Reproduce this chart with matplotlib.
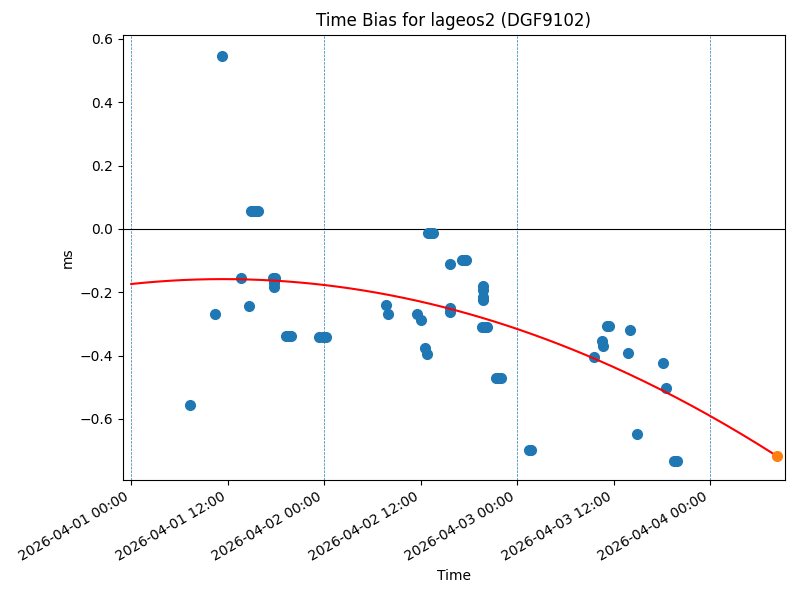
import numpy as np
import pandas as pd
import matplotlib
matplotlib.use("Agg")
import matplotlib.pyplot as plt
import matplotlib.dates as mdates

# observation times, hours after 2026-04-01 00:00
t0 = pd.Timestamp("2026-04-01 00:00")
hours = [7.3, 10.4, 11.3, 13.6, 14.7,
         14.9, 15.2, 15.5, 15.8,
         17.6, 17.9, 17.8, 17.7, 17.8,
         19.3, 19.6, 19.9,
         23.4, 23.8, 24.2,
         31.7, 32.0, 35.6, 36.1, 36.6, 36.8,
         36.9, 37.2, 37.5,
         39.6, 39.7, 39.7,
         41.2, 41.5, 41.7,
         43.7, 43.8, 43.7, 43.7,
         43.6, 44.0, 44.3,
         45.4, 45.7, 46.0,
         49.5, 49.7,
         57.6, 58.6, 58.7, 59.2, 59.4,
         61.8, 62.0, 62.9, 66.2, 66.5,
         67.5, 67.9]
bias = [-0.555, -0.270, 0.545, -0.155, -0.243,
        0.057, 0.057, 0.057, 0.057,
        -0.155, -0.155, -0.165, -0.172, -0.183,
        -0.337, -0.337, -0.337,
        -0.340, -0.340, -0.340,
        -0.240, -0.268, -0.268, -0.287, -0.376, -0.395,
        -0.013, -0.013, -0.013,
        -0.110, -0.250, -0.262,
        -0.098, -0.098, -0.098,
        -0.180, -0.193, -0.215, -0.224,
        -0.310, -0.310, -0.310,
        -0.470, -0.470, -0.470,
        -0.697, -0.697,
        -0.404, -0.354, -0.370, -0.306, -0.306,
        -0.392, -0.319, -0.647, -0.423, -0.502,
        -0.733, -0.733]

# quadratic fit coefficients (ms, per hour), highest order first
fit_coef = [-0.0001178, 0.002696, -0.174]
fit_end = 80.3  # hours, last point of the fit / prediction

times = [t0 + pd.Timedelta(hours=h) for h in hours]
fit_h = np.linspace(0, fit_end, 200)
fit_t = [t0 + pd.Timedelta(hours=h) for h in fit_h]
fit_v = np.polyval(fit_coef, fit_h)
pred_t = t0 + pd.Timedelta(hours=fit_end)
pred_v = np.polyval(fit_coef, fit_end)

fig, ax = plt.subplots(figsize=(8, 6), dpi=100)

for d in pd.date_range("2026-04-01", "2026-04-04", freq="D"):
    ax.axvline(d, color="C0", linestyle="--", linewidth=0.5)
ax.axhline(0, color="black", linewidth=0.8)

ax.plot(times, bias, "o", color="C0", markersize=7)
ax.plot(fit_t, fit_v, "r-", linewidth=1.5)
ax.plot(pred_t, pred_v, "o", color="C1", markersize=7)

ax.set_xlim(t0 - pd.Timedelta(hours=1), t0 + pd.Timedelta(hours=81.3))
ax.set_ylim(-0.793, 0.613)
ax.xaxis.set_major_locator(mdates.HourLocator(byhour=[0, 12]))
ax.xaxis.set_major_formatter(mdates.DateFormatter("%Y-%m-%d %H:%M"))

ax.set_title("Time Bias for lageos2 (DGF9102)")
ax.set_xlabel("Time")
ax.set_ylabel("ms")
fig.autofmt_xdate()
fig.subplots_adjust(left=0.154, right=0.981, top=0.942, bottom=0.2)
fig.savefig("out.png")
